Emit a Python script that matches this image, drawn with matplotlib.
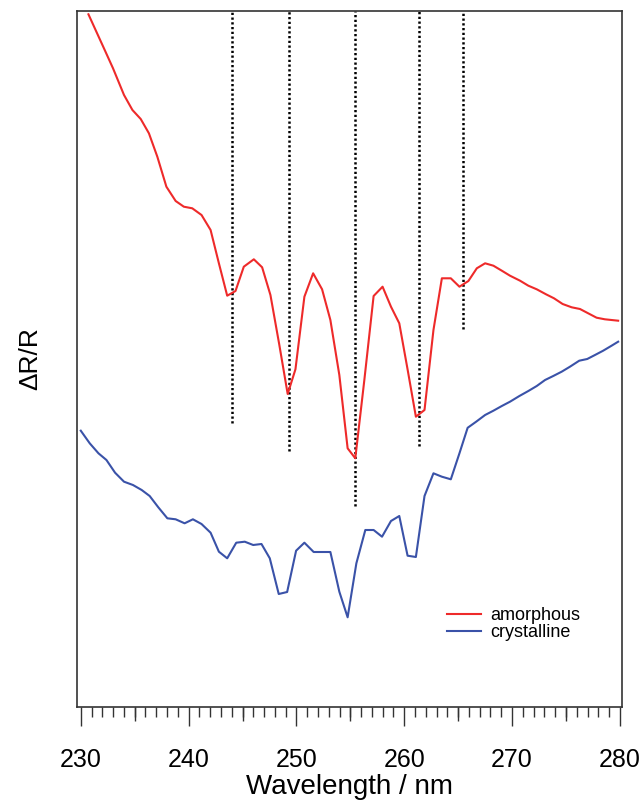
import matplotlib
matplotlib.use("Agg")
import matplotlib.pyplot as plt
from matplotlib.ticker import MultipleLocator, FixedLocator, NullFormatter

plt.rcParams['font.family'] = ['Liberation Sans', 'DejaVu Sans']

# ---- data (arbitrary units) ----
wl_amorphous = [230.71, 231.48, 232.22, 232.99, 234.01, 234.79, 235.56, 236.32, 237.10, 237.94,
                238.80, 239.56, 240.34, 241.20, 242.04, 242.81, 243.58, 244.35, 245.12, 246.05,
                246.82, 247.59, 248.40, 249.19, 249.91, 250.74, 251.55, 252.38, 253.15, 253.98,
                254.75, 255.46, 256.30, 257.16, 257.99, 258.77, 259.54, 260.32, 261.08, 261.88,
                262.71, 263.49, 264.32, 265.12, 265.95, 266.73, 267.50, 268.27, 269.05, 269.81,
                270.74, 271.51, 272.29, 273.15, 273.89, 274.69, 275.53, 276.30, 277.06, 277.84,
                278.61, 279.84]
amorphous = [6.927, 6.745, 6.570, 6.387, 6.120, 5.970, 5.880, 5.737, 5.503, 5.203,
             5.060, 5.003, 4.987, 4.920, 4.770, 4.437, 4.113, 4.160, 4.403, 4.477,
             4.397, 4.120, 3.630, 3.130, 3.377, 4.103, 4.337, 4.177, 3.870, 3.320,
             2.587, 2.487, 3.270, 4.110, 4.203, 4.003, 3.837, 3.370, 2.903, 2.970,
             3.770, 4.287, 4.287, 4.203, 4.260, 4.387, 4.437, 4.413, 4.363, 4.313,
             4.263, 4.213, 4.177, 4.127, 4.087, 4.030, 3.997, 3.980, 3.937, 3.893,
             3.877, 3.863]

wl_crystalline = [230.00, 230.83, 231.64, 232.38, 233.18, 234.01, 234.84, 235.65, 236.39, 237.19,
                  238.03, 238.80, 239.63, 240.40, 241.20, 242.04, 242.81, 243.58, 244.42, 245.21,
                  245.99, 246.76, 247.53, 248.36, 249.14, 249.97, 250.74, 251.60, 252.38, 253.15,
                  253.98, 254.75, 255.56, 256.39, 257.16, 257.94, 258.77, 259.54, 260.31, 261.08,
                  261.88, 262.71, 263.49, 264.32, 265.12, 265.88, 266.67, 267.50, 268.27, 269.05,
                  269.81, 270.68, 271.51, 272.29, 273.06, 273.82, 274.60, 275.37, 276.23, 276.97,
                  277.69, 278.45, 279.23, 279.84]
crystalline = [2.763, 2.637, 2.537, 2.470, 2.343, 2.253, 2.220, 2.170, 2.110, 1.997,
               1.887, 1.877, 1.837, 1.877, 1.830, 1.743, 1.553, 1.487, 1.643, 1.653,
               1.620, 1.630, 1.487, 1.130, 1.150, 1.563, 1.643, 1.550, 1.550, 1.550,
               1.153, 0.897, 1.437, 1.770, 1.770, 1.703, 1.860, 1.910, 1.513, 1.500,
               2.110, 2.337, 2.303, 2.277, 2.537, 2.792, 2.853, 2.920, 2.963, 3.010,
               3.053, 3.110, 3.160, 3.210, 3.270, 3.310, 3.353, 3.403, 3.463, 3.480,
               3.520, 3.563, 3.613, 3.653]

marker_wl = [244.05, 249.35, 255.40, 261.40, 265.46]
marker_bottom = [2.837, 2.563, 2.010, 2.610, 3.777]

series_labels = ["amorphous", "crystalline"]
x_ticks = [230, 240, 250, 260, 270, 280]

YMIN, YMAX = 0.0, 6.965

fig = plt.figure(figsize=(6.43, 8.01), dpi=100)
ax = fig.add_axes([77/643, 1 - 707/801, (621.5 - 77)/643, (707 - 10.5)/801])

red = '#ee2a2a'
blue = '#3a52a8'

for xw, yb in zip(marker_wl, marker_bottom):
    ax.vlines(xw, yb, YMAX, colors='black', linestyles=(0, (0.9, 1.0)), linewidth=1.8, zorder=1)

ax.plot(wl_amorphous, amorphous, color=red, lw=1.5, label=series_labels[0], zorder=3)
ax.plot(wl_crystalline, crystalline, color=blue, lw=1.5, label=series_labels[1], zorder=3)

ax.set_xlim(229.65, 280.15)
ax.set_ylim(YMIN, YMAX)

for s in ax.spines.values():
    s.set_color('#333333')
    s.set_linewidth(1.2)

ax.set_yticks([])
ax.xaxis.set_major_locator(FixedLocator(x_ticks))
ax.xaxis.set_minor_locator(MultipleLocator(1))
ax.tick_params(axis='x', which='major', direction='out', length=13.7, width=1.0,
               color='#333333', labelsize=18, pad=16)
ax.tick_params(axis='x', which='minor', direction='out', length=7.2, width=1.0, color='#333333')

# mid (5 nm) ticks
ax5 = ax.twiny()
ax5.set_xlim(ax.get_xlim())
ax5.xaxis.set_ticks_position('bottom')
ax5.xaxis.set_major_locator(FixedLocator([235, 245, 255, 265, 275]))
ax5.xaxis.set_major_formatter(NullFormatter())
ax5.tick_params(axis='x', which='major', direction='out', length=10, width=1.0, color='#333333')
ax5.xaxis.set_minor_locator(FixedLocator([]))
for s in ax5.spines.values():
    s.set_visible(False)
ax5.set_yticks([])

ax.set_xlabel("Wavelength / nm", fontsize=20, labelpad=1)
ax.set_ylabel("ΔR/R", fontsize=19, labelpad=25)

leg = ax.legend(loc='upper left', bbox_to_anchor=(447/643, 1 - 607/801),
                bbox_transform=fig.transFigure, frameon=False, fontsize=13,
                handlelength=1.9, handletextpad=0.5, labelspacing=0.0,
                borderpad=0, borderaxespad=0)

fig.savefig("out.png", dpi=100)
